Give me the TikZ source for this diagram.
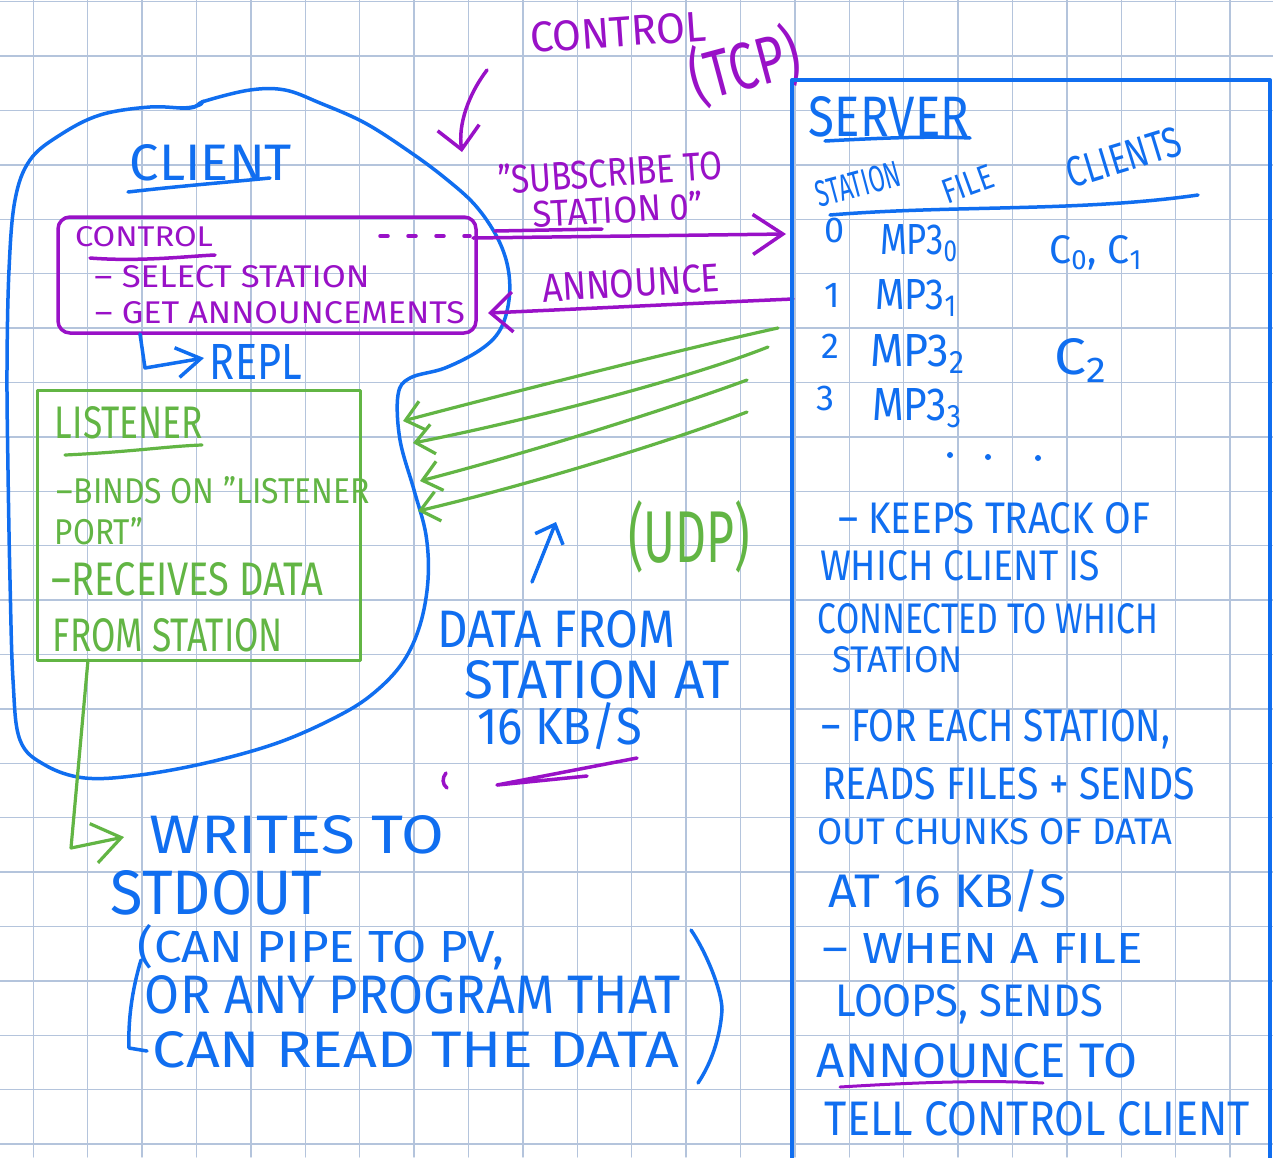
\documentclass[tikz,border=0pt]{standalone}
\usepackage{fontspec}
\setmainfont{Fira Sans}
\usepackage{graphicx}
\usetikzlibrary{arrows.meta}
\definecolor{penblue}{RGB}{16,110,240}
\definecolor{penpurple}{RGB}{153,17,199}
\definecolor{pengreen}{RGB}{98,181,68}
\definecolor{gridc}{RGB}{180,196,220}
\newcommand\hw[3]{\resizebox{#1pt}{#2pt}{#3}}
\begin{document}
\begin{tikzpicture}[x=1pt,y=-1pt,line cap=round,line join=round,
  bt/.style={inner sep=0pt,text=penblue,font=\fontsize{20}{24}\selectfont},
  ptx/.style={inner sep=0pt,text=penpurple,font=\fontsize{20}{24}\selectfont},
  gt/.style={inner sep=0pt,text=pengreen,font=\fontsize{20}{24}\selectfont},
  bl/.style={draw=penblue,line width=3.5pt},
  pl/.style={draw=penpurple,line width=3.5pt},
  gl/.style={draw=pengreen,line width=3.2pt},
  gridline/.style={draw=gridc,line width=1.3pt},
  digit/.style={bt,font=\fontsize{36}{40}\selectfont},
  gbarb/.style={-{Straight Barb[length=18pt,width=30pt]}}
]
\useasboundingbox (0,0) rectangle (1273,1157);
\fill[white] (0,0) rectangle (1273,1157);
% grid
\foreach \i in {0,...,23} \draw[gridline] ({33.3+54.4*\i},0) -- ({33.3+54.4*\i},1157);
\foreach \j in {0,...,21} \draw[gridline] (0,{1.7+54.4*\j}) -- (1273,{1.7+54.4*\j});

% ---------- client blob ----------
\draw[bl] plot[smooth cycle,tension=0.6] coordinates {
 (205,101) (250,90) (285,90) (320,103) (365,123) (410,152) (445,178) (475,205)
 (497,237) (508,268) (509,300) (500,330) (480,350) (445,368) (410,378) (398,395)
 (400,440) (414,490) (426,535) (428,580) (420,625) (403,662) (375,692) (340,715)
 (280,742) (210,762) (140,775) (85,778) (45,765) (20,740) (13,680) (10,580)
 (8,470) (7,370) (9,270) (15,200) (30,160) (60,135) (100,115) (150,107) (190,108)};
\draw[bl] (180,108) .. controls (194,108) and (203,105) .. (203,101);

\node[bt] (client) at (211,163) {\hw{162}{36}{CLIENT}};
\draw[bl] (128,192) .. controls (180,186) and (230,182) .. (270,178);

% ---------- control box ----------
\node[draw=penpurple,line width=3.5pt,rounded corners=12pt,minimum width=418pt,minimum height=116pt,inner sep=0pt] (ctrlbox) at (267,275) {};
\node[ptx] (ctrltitle) at (144,237) {\hw{138}{20}{CONTROL}};
\draw[pl] (90,258) .. controls (140,262) and (190,256) .. (215,255);
\node[ptx] (sel) at (232,277) {\hw{275}{22}{– SELECT STATION}};
\node[ptx] (get) at (280,313) {\hw{370}{22}{– GET ANNOUNCEMENTS}};

% REPL
\node[bt] (repl) at (256,362) {\hw{92}{35}{REPL}};
\coordinate (replA) at (140,334);
\coordinate (replB) at (204,358);
\draw[bl,-{Straight Barb[length=24pt,width=30pt]}] (replA) -- (145,368) -- (replB);

% ---------- listener box ----------
\node[draw=pengreen,line width=3pt,minimum width=323pt,minimum height=270pt,inner sep=0pt] (listener) at (198.5,525) {};
\node[gt] (listitle) at (129,423) {\hw{148}{32}{LISTENER}};
\draw[gl] (65,455) .. controls (130,452) and (170,446) .. (202,445);
\node[gt] (binds) at (213.5,490) {\hw{313}{27}{–BINDS ON "LISTENER}};
\node[gt] (port) at (99,531) {\hw{88}{27}{PORT"}};
\node[gt] (recv) at (187.5,579) {\hw{271}{33}{–RECEIVES DATA}};
\node[gt] (fromst) at (168,635) {\hw{230}{33}{FROM STATION}};

% listener -> writes
\coordinate (lisA) at (88,660);
\coordinate (lisB) at (124,837);
\draw[gl,-{Straight Barb[length=28pt,width=40pt]}] (lisA) -- (71,848) -- (lisB);

\node[bt] (writes) at (297,835) {\hw{294}{38}{WRITES TO}};
\node[bt] (stdout) at (216.5,893) {\hw{211}{44}{STDOUT}};
\node[bt] (pipe) at (321,947) {\hw{366}{38}{(CAN PIPE TO PV,}};
\node[bt] (prog) at (413,995) {\hw{536}{38}{OR ANY PROGRAM THAT}};
\node[bt] (readd) at (416,1050) {\hw{526}{36}{CAN READ THE DATA}};
\draw[bl] (141,960) .. controls (132,990) and (128,1020) .. (129,1048) -- (147,1051);
\draw[bl] (691,930) .. controls (705,950) and (722,990) .. (722,1010) .. controls (720,1040) and (710,1065) .. (698,1083);

% ---------- top purple labels ----------
\node[ptx,rotate=4] (ctrltcp) at (618,32) {\hw{176}{30}{CONTROL}};
\node[ptx,rotate=15] (tcp) at (745,66) {\hw{112}{56}{(TCP)}};
\coordinate (tcpA) at (487,70);
\coordinate (tcpB) at (462,152);
\draw[pl,-{Straight Barb[length=22pt,width=42pt]}] (tcpA) .. controls (468,95) and (458,125) .. (tcpB);

\node[ptx,rotate=4] (subs1) at (610,172) {\hw{224}{30}{"SUBSCRIBE TO}};
\node[ptx,rotate=3] (subs2) at (618,209) {\hw{170}{28}{STATION 0"}};
\draw[pl] (495,231) -- (602,229);
\draw[pl,dash pattern=on 8pt off 20pt] (380,236) -- (470,236);
\coordinate (subA) at (473,238);
\coordinate (subB) at (786,234);
\draw[pl,-{Straight Barb[length=30pt,width=40pt]}] (subA) -- (subB);

\node[ptx,rotate=3.5] (ann) at (631,283) {\hw{178}{28}{ANNOUNCE}};
\coordinate (annA) at (793,299);
\coordinate (annB) at (488,313);
\draw[pl,-{Straight Barb[length=22pt,width=40pt]}] (annA) .. controls (700,303) and (600,308) .. (annB);

% ---------- UDP arrows ----------
\coordinate (g1s) at (778,328); \coordinate (g1e) at (403,421);
\coordinate (g2s) at (768,347); \coordinate (g2e) at (413,443);
\coordinate (g3s) at (747,380); \coordinate (g3e) at (420,481);
\coordinate (g4s) at (747,412); \coordinate (g4e) at (418,511);
\draw[gl,gbarb] (g1s) .. controls (700,345) and (520,390) .. (g1e);
\draw[gl,gbarb] (g2s) .. controls (690,378) and (530,420) .. (g2e);
\draw[gl,gbarb] (g3s) .. controls (660,412) and (520,455) .. (g3e);
\draw[gl,gbarb] (g4s) .. controls (660,445) and (520,487) .. (g4e);
\node[gt] (udp) at (689,537) {\hw{122}{62}{(UDP)}};
\coordinate (upA) at (532,582);
\coordinate (upB) at (556,522);
\draw[bl,-{Straight Barb[length=16pt,width=30pt]}] (upA) -- (upB);

\node[bt] (data1) at (556,629) {\hw{238}{37}{DATA FROM}};
\node[bt] (data2) at (597.5,680) {\hw{265}{38}{STATION AT}};
\node[bt] (data3) at (559.5,726) {\hw{165}{42}{16 KB/S}};
\draw[pl] (637,758) -- (497,785) -- (587,776);
\draw[pl] (446,773) .. controls (442,778) and (442,784) .. (447,788);

% ---------- server ----------
\node[draw=penblue,line width=4pt,minimum width=478pt,minimum height=1140pt,inner sep=0pt] (server) at (1031,650) {};
\node[bt] (serverlbl) at (889,117) {\hw{160}{40}{SERVER}};
\draw[bl] (825,141) .. controls (880,138) and (930,136) .. (970,138);
\node[bt,rotate=15] (sthdr) at (858,184) {\hw{86}{26}{STATION}};
\node[bt,rotate=20] (filehdr) at (968,184) {\hw{52}{24}{FILE}};
\node[bt,rotate=17] (clhdr) at (1124,157) {\hw{118}{30}{CLIENTS}};
\draw[bl] (830,215) .. controls (950,205) and (1080,212) .. (1198,195);

\node[digit] (s0) at (835,230) {0};
\node[digit] (s1) at (832,295) {1};
\node[digit] (s2) at (830,346) {2};
\node[digit] (s3) at (825,398) {3};
\node[bt] (mp0) at (919,243) {\hw{78}{30}{MP3\textsubscript{0}}};
\node[bt] (mp1) at (916,298) {\hw{82}{30}{MP3\textsubscript{1}}};
\node[bt] (mp2) at (917.5,354) {\hw{95}{32}{MP3\textsubscript{2}}};
\node[bt] (mp3) at (917,408) {\hw{90}{32}{MP3\textsubscript{3}}};
\node[bt] (c01) at (1096,253) {\hw{93}{28}{C\textsubscript{0}, C\textsubscript{1}}};
\node[bt] (c2) at (1081,360) {\hw{53}{36}{C\textsubscript{2}}};
\fill[penblue] (950,455) circle (3pt) (988,457) circle (3pt) (1038,458) circle (3pt);

\node[bt] (keeps) at (994,518) {\hw{312}{31}{– KEEPS TRACK OF}};
\node[bt] (which) at (960,566) {\hw{280}{30}{WHICH CLIENT IS}};
\node[bt] (conn) at (988,619) {\hw{340}{30}{CONNECTED TO WHICH}};
\node[bt] (stat) at (897.5,660) {\hw{131}{26}{STATION}};
\node[bt] (foreach) at (996,729) {\hw{348}{32}{– FOR EACH STATION,}};
\node[bt] (reads) at (1008.5,784) {\hw{373}{32}{READS FILES + SENDS}};
\node[bt] (outc) at (994.5,832) {\hw{355}{26}{OUT CHUNKS OF DATA}};
\node[bt] (at16) at (947.5,891) {\hw{239}{38}{AT 16 KB/S}};
\node[bt] (when) at (983,948) {\hw{320}{30}{– WHEN A FILE}};
\node[bt] (loops) at (969,1004) {\hw{268}{32}{LOOPS, SENDS}};
\node[bt] (annto) at (977,1061) {\hw{320}{34}{ANNOUNCE TO}};
\draw[pl,line width=3pt] (840,1087) .. controls (920,1082) and (990,1080) .. (1043,1083);
\node[bt] (tell) at (1037.5,1119) {\hw{425}{34}{TELL CONTROL CLIENT}};
\end{tikzpicture}
\end{document}
